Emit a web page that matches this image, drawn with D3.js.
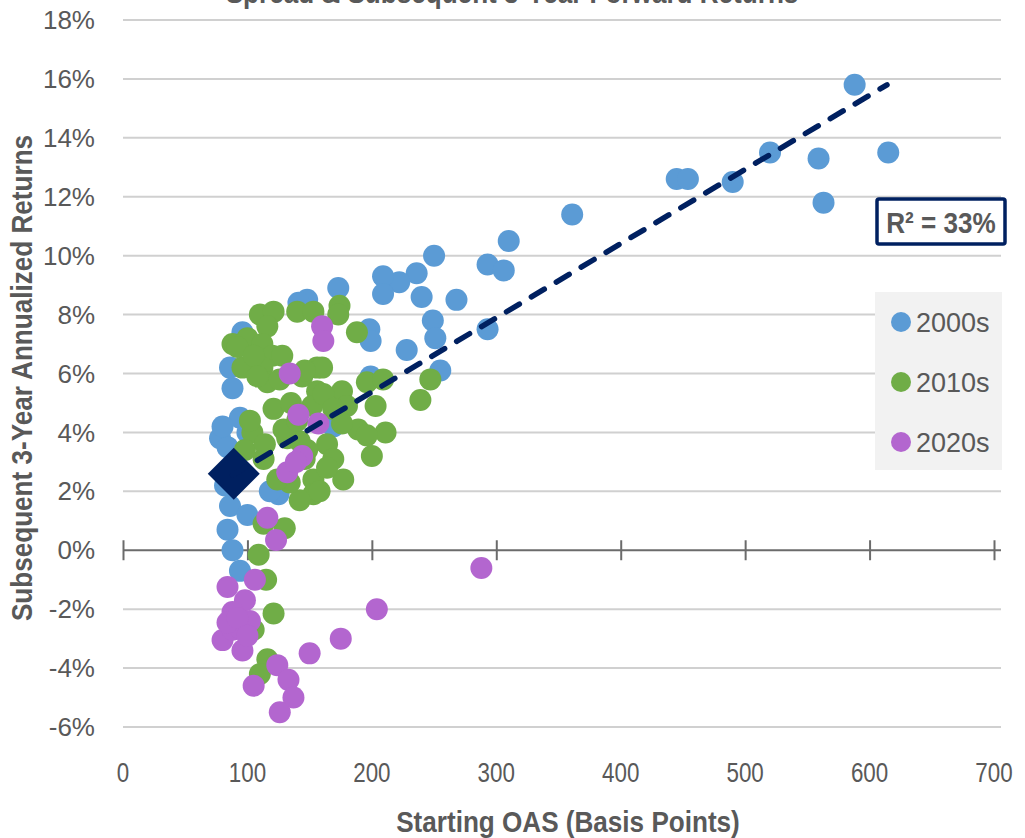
<!DOCTYPE html>
<html>
<head>
<meta charset="utf-8">
<script src="https://cdn.jsdelivr.net/npm/d3@7"></script>
<style>
  body { margin: 0; background: #fff; }
  text { fill: #595959; }
</style>
</head>
<body>
<div id="chart"></div>
<script>
// series: [starting OAS (bp), subsequent 3y annualized return (%)]
const points2000s = [
    [588, 15.8], [615, 13.5], [559, 13.3], [563, 11.8], [520, 13.5], [490, 12.5],
    [445, 12.6], [454, 12.6], [361, 11.4], [310, 10.5], [293, 9.7], [306, 9.5],
    [250, 10.0], [236, 9.4], [222, 9.1], [209, 9.3], [209, 8.7], [240, 8.6],
    [268, 8.5], [249, 7.8], [251, 7.2], [228, 6.8], [293, 7.5], [255, 6.1],
    [198, 7.5], [199, 7.1], [199, 5.9], [173, 8.9], [148, 8.5], [141, 8.4],
    [96, 7.4], [86, 6.2], [88, 5.5], [94, 4.5], [78, 3.8], [84, 3.5],
    [82, 2.2], [125, 1.9], [118, 2.0], [86, 1.5], [100, 1.2], [84, 0.7],
    [88, 0.0], [94, -0.7], [169, 4.2], [100, 4.0], [80, 4.2]
];
const points2010s = [
    [110, 8.0], [121, 8.1], [116, 7.6], [140, 8.1], [153, 8.1], [174, 8.3],
    [173, 8.0], [188, 7.4], [88, 7.0], [100, 7.2], [112, 7.0], [120, 6.6],
    [96, 6.2], [112, 6.2], [116, 5.7], [126, 5.8], [156, 6.2], [144, 5.9],
    [156, 5.4], [176, 5.4], [180, 4.9], [196, 5.7], [209, 5.8], [203, 4.9],
    [247, 5.8], [239, 5.1], [189, 4.1], [211, 4.0], [200, 3.2], [164, 3.6],
    [169, 3.1], [177, 2.4], [153, 2.4], [153, 1.9], [142, 1.7], [134, 2.3],
    [124, 2.4], [113, 3.1], [132, 3.8], [129, 4.1], [121, 4.8], [104, 4.0],
    [98, 3.4], [113, 0.9], [130, 0.75], [109, -0.15], [115, -1.0], [121, -2.15],
    [105, -2.7], [116, -3.7], [110, -4.2], [160, 6.2], [146, 6.1], [152, 4.9],
    [161, 5.3], [169, 4.8], [176, 4.3], [164, 2.8], [158, 2.0], [196, 3.9],
    [142, 3.7], [146, 3.1], [102, 4.4], [114, 3.6], [92, 6.9], [105, 6.6],
    [128, 6.6], [108, 5.9], [135, 5.0], [140, 4.4], [148, 3.4]
];
const points2020s = [
    [160, 7.6], [161, 7.1], [134, 6.0], [141, 4.6], [157, 4.3], [144, 3.2],
    [132, 2.65], [139, 3.0], [116, 1.1], [123, 0.35], [84, -1.25], [106, -1.0],
    [98, -1.7], [88, -2.1], [102, -2.4], [80, -3.05], [96, -3.4], [88, -2.7],
    [94, -2.65], [84, -2.45], [92, -2.3], [100, -2.9], [150, -3.5], [175, -3.0],
    [204, -2.0], [288, -0.6], [124, -3.9], [133, -4.4], [137, -5.0], [105, -4.6],
    [126, -5.5]
];
const currentPoint = [89, 2.6];
const trendLine = [[88, 2.55], [614, 15.8]];

const seriesNames = ["2000s", "2010s", "2020s"];
const seriesColors = ["#5b9bd5", "#70ad47", "#b366cf"];
const xTicks = [0, 100, 200, 300, 400, 500, 600, 700];
const yTicks = [-6, -4, -2, 0, 2, 4, 6, 8, 10, 12, 14, 16, 18];
const rSquaredLabel = "R² = 33%";

const width = 1025, height = 838;
const fontFamily = "'Liberation Sans', Arial, sans-serif";
const squeeze = 0.87; // no narrow face installed, so squeeze the regular one

const x = d3.scaleLinear().domain([0, 700]).range([123, 994]);
const y = d3.scaleLinear().domain([-6, 18]).range([727, 20]);

const svg = d3.select("#chart").append("svg")
    .attr("width", width)
    .attr("height", height);

// condensed looking text: translate, rotate, then squeeze along the text direction
function narrowText(parent, tx, ty, str, size, bold, rot, sx) {
    return parent.append("text")
        .attr("transform", `translate(${tx},${ty}) rotate(${rot || 0}) scale(${sx || squeeze},1)`)
        .attr("text-anchor", "middle")
        .attr("font-family", fontFamily)
        .attr("font-weight", bold ? "bold" : "normal")
        .attr("font-size", size)
        .text(str);
}

// title, cut off at the top like the original
narrowText(svg, 512, 3, "Spread & Subsequent 3-Year Forward Returns", 30, true);

// gridlines
svg.append("g")
    .selectAll("line")
    .data(yTicks.filter(d => d !== 0))
    .join("line")
    .attr("x1", x(0))
    .attr("x2", 1001)
    .attr("y1", d => y(d))
    .attr("y2", d => y(d))
    .attr("stroke", "#d0d0d0")
    .attr("stroke-width", 2);

// y tick labels
svg.append("g")
    .attr("font-family", fontFamily)
    .attr("font-size", 26)
    .selectAll("text")
    .data(yTicks)
    .join("text")
    .attr("x", 95)
    .attr("y", d => y(d))
    .attr("dy", "0.35em")
    .attr("text-anchor", "end")
    .text(d => d + "%");

// zero line with crossing ticks
const xAxis = d3.axisBottom(x).tickValues(xTicks).tickSize(20).tickFormat("");
svg.append("g")
    .attr("transform", `translate(0,${y(0) - 10})`)
    .call(xAxis)
    .call(g => g.select(".domain").remove())
    .call(g => g.selectAll(".tick line").attr("stroke", "#6b6b6b").attr("stroke-width", 2));
svg.append("line")
    .attr("x1", x(0)).attr("x2", 1001)
    .attr("y1", y(0)).attr("y2", y(0))
    .attr("stroke", "#6b6b6b")
    .attr("stroke-width", 2);

// x tick labels
const xLabels = svg.append("g");
xTicks.forEach(t => narrowText(xLabels, x(t), 782, t, 28, false, 0, 0.8));

// axis titles
narrowText(svg, 568, 832, "Starting OAS (Basis Points)", 30, true);
narrowText(svg, 32, 378, "Subsequent 3-Year Annualized Returns", 30, true, -90);

// scatter series
const allSeries = [points2000s, points2010s, points2020s];
allSeries.forEach((pts, i) => {
    svg.append("g")
        .selectAll("circle")
        .data(pts)
        .join("circle")
        .attr("cx", d => x(d[0]))
        .attr("cy", d => y(d[1]))
        .attr("r", 11)
        .attr("fill", seriesColors[i]);
});

// current point
svg.append("path")
    .attr("d", d3.symbol(d3.symbolSquare, 1350)())
    .attr("transform", `translate(${x(currentPoint[0])},${y(currentPoint[1])}) rotate(45)`)
    .attr("fill", "#002060");

// trend line
svg.append("path")
    .datum(trendLine)
    .attr("d", d3.line().x(d => x(d[0])).y(d => y(d[1])))
    .attr("fill", "none")
    .attr("stroke", "#002060")
    .attr("stroke-width", 5.5)
    .attr("stroke-linecap", "round")
    .attr("stroke-dasharray", "15,14");

// R squared box
svg.append("rect")
    .attr("x", 877).attr("y", 199)
    .attr("width", 128).attr("height", 45)
    .attr("rx", 2)
    .attr("fill", "#fff")
    .attr("stroke", "#002060")
    .attr("stroke-width", 3.5);
narrowText(svg, 941, 233, rSquaredLabel, 30, true);

// legend
const legend = svg.append("g");
legend.append("rect")
    .attr("x", 875).attr("y", 292)
    .attr("width", 127).attr("height", 178)
    .attr("fill", "#f2f2f2");
const items = legend.selectAll("g.item")
    .data(seriesNames)
    .join("g")
    .attr("class", "item")
    .attr("transform", (d, i) => `translate(901,${322 + i * 60})`);
items.append("circle")
    .attr("r", 10)
    .attr("fill", (d, i) => seriesColors[i]);
items.append("text")
    .attr("x", 15)
    .attr("dy", "0.36em")
    .attr("font-family", fontFamily)
    .attr("font-size", 27)
    .text(d => d);
</script>
</body>
</html>
